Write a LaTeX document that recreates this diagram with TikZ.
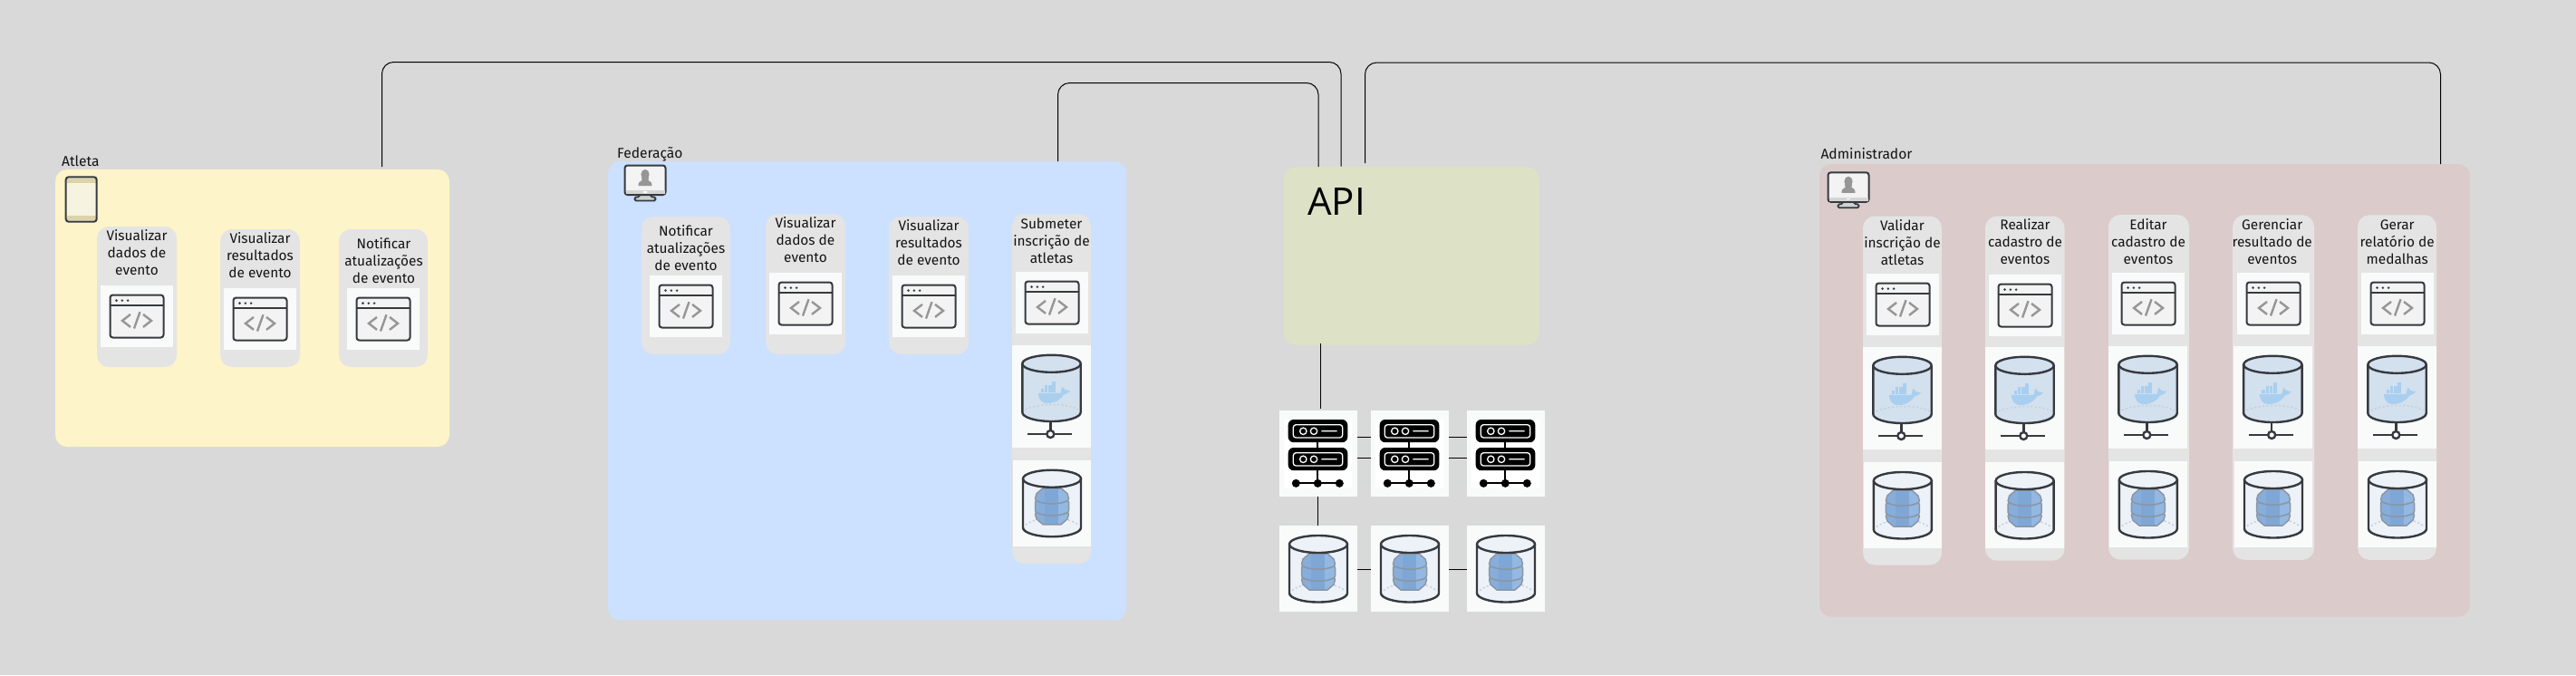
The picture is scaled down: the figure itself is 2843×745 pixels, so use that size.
\documentclass[tikz,border=0pt]{standalone}
\usepackage{graphicx}
\usepackage{fontspec}
\setmainfont{Fira Sans}
\newfontfamily\apifont{Open Sans}
\definecolor{bgc}{HTML}{D9D9D9}
\definecolor{yel}{HTML}{FEF4C9}
\definecolor{blu}{HTML}{CCE0FF}
\definecolor{pnk}{HTML}{DBCBCB}
\definecolor{apic}{HTML}{DDE1C6}
\definecolor{cardc}{HTML}{E4E4E4}
\definecolor{whit}{HTML}{F9FBFB}
\definecolor{ink}{HTML}{363A3F}
\definecolor{midg}{HTML}{969696}
\definecolor{scr}{HTML}{F3F3F3}
\definecolor{dockc}{HTML}{D3E0EE}
\definecolor{whale}{HTML}{A8CFEF}
\definecolor{dbc}{HTML}{EDF2F9}
\definecolor{barrel}{HTML}{87AEDB}
\definecolor{barreld}{HTML}{7FA7D6}
\definecolor{barrell}{HTML}{93B8E2}
\definecolor{barrele}{HTML}{8B96A3}
\definecolor{dots}{HTML}{C9CFD6}
\definecolor{tabscr}{HTML}{F6F4E0}
\definecolor{tabband}{HTML}{DDD3A9}
\tikzset{
  x=1pt,y=-1pt,
  plain/.style={inner sep=0pt,outer sep=0pt},
  region/.style={plain,rounded corners=13pt},
  cardbox/.style={plain,fill=cardc,rounded corners=13pt},
  whitebox/.style={plain,fill=whit},
  cardtext/.style={inner sep=0pt,anchor=base,font=\fontsize{15.4}{19}\selectfont,text=black!92},
  actortext/.style={inner sep=0pt,anchor=base west,font=\fontsize{15.6}{19}\selectfont,text=black!92},
  conn/.style={draw=black,line width=1pt},
  turn/.style={conn,rounded corners=13pt},
  codewin/.pic={
    \draw[ink,fill=scr,line width=2pt,rounded corners=3pt] (-29.5,-23.5) rectangle (29.5,23.5);
    \draw[ink,line width=2pt] (-29.5,-12.2) -- (29.5,-12.2);
    \fill[ink] (-22.5,-17.4) circle[radius=1.4pt] (-16.2,-17.4) circle[radius=1.4pt] (-9.9,-17.4) circle[radius=1.4pt];
    \draw[midg,line width=2.4pt] (-7,-2.1) -- (-16,4.9) -- (-7,11.9) (-3,13.5) -- (3.5,-4.8) (7,-2.1) -- (16,4.9) -- (7,11.9);
  },
  dockericon/.pic={
    \path[fill=dockc] (-32.2,-36.2) -- (-32.2,17.5) arc[start angle=180,end angle=360,x radius=32.2pt,y radius=10pt] -- (32.2,-36.2) arc[start angle=0,end angle=180,x radius=32.2pt,y radius=9.5pt] -- cycle;
    \fill[whale] (-14.5,-3.7) -- (10,-3.7) .. controls (11,-7) and (11,-9) .. (12,-11) .. controls (13,-8) and (15,-7) .. (20.5,-6.5) .. controls (18,-3) and (15,-2.5) .. (13.5,-2) .. controls (8,6) and (0,8) .. (-5,7.5) .. controls (-12,7) and (-14.5,2) .. cycle;
    \foreach \bx in {-12,-7.8,-3.6,0.6}{\fill[whale] (\bx,-8.2) rectangle ++(3.6,3.6);}
    \foreach \bx in {-7.8,-3.6,0.6}{\fill[whale] (\bx,-12.4) rectangle ++(3.6,3.6);}
    \fill[whale] (0.6,-16.6) rectangle ++(3.6,3.6);
    \draw[dots,line width=1.5pt,dash pattern=on 2pt off 2.5pt] (-28.8,14.2) .. controls (-15,8) and (15,6.5) .. (29.5,14.2);
    \draw[ink,line width=2.4pt] (0,-36.2) ellipse[x radius=32.2pt,y radius=9.5pt];
    \draw[ink,line width=2.4pt] (-32.2,-36.2) -- (-32.2,17.5) arc[start angle=180,end angle=360,x radius=32.2pt,y radius=10pt] -- (32.2,-36.2);
    \draw[ink,line width=2.4pt] (-1.2,27.5) -- (-1.2,37.5) (-26.2,41.5) -- (22.8,41.5);
    \draw[ink,fill=white,line width=2.4pt] (-1.2,41.5) circle[radius=4pt];
  },
  dbicon/.pic={
    \path[fill=dbc] (-32,-27) -- (-32,27) arc[start angle=180,end angle=360,x radius=32pt,y radius=10pt] -- (32,-27) arc[start angle=0,end angle=180,x radius=32pt,y radius=9.5pt] -- cycle;
    \draw[dots,line width=1.5pt,dash pattern=on 2pt off 2.5pt] (-29,24) .. controls (-25,21) and (-22,20) .. (-18,18.5) (18,18.5) .. controls (22,20) and (25,21) .. (29,24);
    \begin{scope}
      \path[clip] (-10,-16.5) -- (10,-16.5) -- (17,-10.5) -- (18.5,-5) -- (17.5,-3) -- (18.5,-1) -- (18.5,8) -- (17.5,10) -- (18.5,12) -- (17,17.5) -- (10,23.5) -- (-10,23.5) -- (-17,17.5) -- (-18.5,12) -- (-17.5,10) -- (-18.5,8) -- (-18.5,-1) -- (-17.5,-3) -- (-18.5,-5) -- (-17,-10.5) -- cycle;
      \fill[barrel] (-20,-18) rectangle (20,25);
      \fill[barreld] (-8,-18) rectangle (7,25);
      \fill[barrell] (7,-18) rectangle (20,25);
    \end{scope}
    \draw[barrele,line width=1.5pt,line join=round] (-10,-16.5) -- (10,-16.5) -- (17,-10.5) -- (18.5,-5) -- (17.5,-3) -- (18.5,-1) -- (18.5,8) -- (17.5,10) -- (18.5,12) -- (17,17.5) -- (10,23.5) -- (-10,23.5) -- (-17,17.5) -- (-18.5,12) -- (-17.5,10) -- (-18.5,8) -- (-18.5,-1) -- (-17.5,-3) -- (-18.5,-5) -- (-17,-10.5) -- cycle;
    \draw[barrele,line width=1.6pt] (-18,-3) .. controls (-8,2) and (8,2) .. (18,-3) (-18,10) .. controls (-8,15) and (8,15) .. (18,10);
    \draw[ink,line width=2.4pt] (0,-27) ellipse[x radius=32pt,y radius=9.5pt];
    \draw[ink,line width=2.4pt] (-32,-27) -- (-32,27) arc[start angle=180,end angle=360,x radius=32pt,y radius=10pt] -- (32,-27);
  },
  servicon/.pic={
    \fill[white] (-38,-37) rectangle (37,37.5);
    \foreach \ty in {-37.35,-6.35}{
      \fill[black,rounded corners=6pt] (-33.3,\ty) rectangle (32.3,\ty+25.2);
      \draw[white,line width=1.3pt,rounded corners=3pt] (-27.7,\ty+5.7) rectangle (26.7,\ty+20);
      \draw[white,line width=1.3pt] (-16.7,\ty+12.8) circle[radius=3.7pt] (-5,\ty+12.8) circle[radius=3.7pt] (3.3,\ty+12.8) -- (20.7,\ty+12.8);
    }
    \draw[black,line width=2pt] (-0.7,-12) -- (-0.7,-6) (-0.7,18.6) -- (-0.7,33) (-24.7,33) -- (23.3,33);
    \fill[black] (-24.7,33) circle[radius=4.5pt] (-0.7,33) circle[radius=4.5pt] (23.3,33) circle[radius=4.5pt];
  },
  monitoricon/.pic={
    \filldraw[fill=midg!45,draw=ink,line width=1.8pt,rounded corners=1.5pt] (16,32) -- (16,35) -- (11,35) -- (11,39) -- (34,39) -- (34,35) -- (29,35) -- (29,32) -- cycle;
    \filldraw[fill=scr,draw=ink,line width=2pt,rounded corners=3pt] (0,0) rectangle (45,32.5);
    \fill[midg!40] (1,27.5) rectangle (44,31.5);
    \fill[white] (20.5,28.5) rectangle (24.5,30);
    \fill[midg] (22.5,10) ellipse[x radius=4.6pt,y radius=5.6pt];
    \fill[midg] (18.5,13) -- (26.5,13) -- (26,16.5) .. controls (29,18) and (30,19) .. (30,22.5) -- (15,22.5) .. controls (15,19) and (16,18) .. (19,16.5) -- cycle;
  },
  tableticon/.pic={
    \fill[tabscr,rounded corners=3pt] (0,0) rectangle (34,49.4);
    \fill[tabband] (1,1.5) rectangle (33,6.5);
    \fill[tabband] (1,43) rectangle (33,48);
    \draw[ink,line width=2pt,rounded corners=3pt] (0,0) rectangle (34,49.4);
  },
}
\newcommand\boxat[6]{\node[#1,minimum width={(#5-#3)*1pt},minimum height={(#6-#4)*1pt}] (#2) at ({(#3+#5)/2},{(#4+#6)/2}) {};}
\newcommand\cardlabel[4]{\node[cardtext] (#1) at (#2,#3) {\begin{tabular}[t]{@{}c@{}}#4\end{tabular}};}
\newcommand\codeat[1]{\pic at (#1.center) {codewin};}
\newcommand\dockat[1]{\pic at (#1.center) {dockericon};}
\newcommand\dbat[1]{\pic at (#1.center) {dbicon};}
\begin{document}
\begin{tikzpicture}
\fill[bgc] (0,0) rectangle (2843,745);
\useasboundingbox (0,0) rectangle (2843,745);

% regions
\boxat{region,fill=yel}{atleta}{61}{187}{496}{493}
\boxat{region,fill=blu}{federacao}{671}{178}{1243}{684.5}
\boxat{region,fill=pnk}{admin}{2008}{181}{2726}{680.5}
\boxat{region,fill=apic,rounded corners=14pt}{api}{1417}{184}{1699}{381}
\node[inner sep=0pt,anchor=base west,font=\fontsize{42}{46}\selectfont\apifont,text=black] (apilabel) at (1443,237.7) {API};

\node[actortext] (latleta) at (68,183) {Atleta};
\node[actortext] (lfed) at (681,174.8) {Federação};
\node[actortext] (ladm) at (2009.3,175) {Administrador};
\pic at (72.7,195.3) {tableticon};
\pic at (689.5,182.5) {monitoricon};
\pic at (2017.5,190.3) {monitoricon};

% connectors to API
\coordinate (atlOut) at (421.5,184);
\coordinate (fedOut) at (1167.5,178);
\coordinate (admOut) at (2693.5,181);
\coordinate (apiInA) at (1480,183.5);
\coordinate (apiInF) at (1455,184);
\coordinate (apiInD) at (1506.5,180);
\coordinate (turnA) at (421.5,68.5);
\coordinate (turnF) at (1167.5,91.5);
\coordinate (turnD) at (2693.5,69);
\draw[turn] (atlOut) -- (turnA) -| (apiInA);
\draw[turn] (fedOut) -- (turnF) -| (apiInF);
\draw[turn] (admOut) -- (turnD) -| (apiInD);

% Atleta cards
\boxat{cardbox}{c1}{107}{250}{195}{405}
\boxat{cardbox}{c2}{243}{253}{331}{405}
\boxat{cardbox}{c3}{374}{253}{472}{405}
\boxat{whitebox}{c1w}{111}{315}{191}{383}
\boxat{whitebox}{c2w}{247}{318}{327}{386}
\boxat{whitebox}{c3w}{383}{318}{463}{386}
\cardlabel{c1t}{151}{265}{Visualizar\\dados de\\evento}
\cardlabel{c2t}{287}{268}{Visualizar\\resultados\\de evento}
\cardlabel{c3t}{423.5}{274}{Notificar\\atualizações\\de evento}
\codeat{c1w}\codeat{c2w}\codeat{c3w}

% Federacao cards
\boxat{cardbox}{f1}{708}{239}{806}{391}
\boxat{cardbox}{f2}{845}{236}{933}{391}
\boxat{cardbox}{f3}{981}{239}{1069}{391}
\boxat{cardbox}{f4}{1117}{236}{1204}{622}
\boxat{whitebox}{f1w}{717}{304}{797}{372}
\boxat{whitebox}{f2w}{849}{301}{929}{369}
\boxat{whitebox}{f3w}{985}{304}{1065}{372}
\boxat{whitebox}{f4w}{1121}{300}{1201}{368}
\boxat{whitebox}{f4d}{1117}{381}{1204}{494}
\boxat{whitebox}{f4b}{1118}{508}{1204}{602.5}
\cardlabel{f1t}{757}{260}{Notificar\\atualizações\\de evento}
\cardlabel{f2t}{889}{251}{Visualizar\\dados de\\evento}
\cardlabel{f3t}{1025}{254}{Visualizar\\resultados\\de evento}
\cardlabel{f4t}{1160.5}{252}{Submeter\\inscrição de\\atletas}
\codeat{f1w}\codeat{f2w}\codeat{f3w}\codeat{f4w}
\dockat{f4d}\dbat{f4b}

% Administrador cards
\boxat{cardbox}{a1}{2056}{238.5}{2143}{623.5}
\boxat{cardbox}{a2}{2191}{238.5}{2278.5}{618.7}
\boxat{cardbox}{a3}{2327}{237}{2416}{617.6}
\boxat{cardbox}{a4}{2464}{237.3}{2554}{617.8}
\boxat{cardbox}{a5}{2602}{237.3}{2689}{617.8}
\boxat{whitebox}{a1w}{2060}{302}{2140}{370}
\boxat{whitebox}{a2w}{2195}{303}{2275}{371}
\boxat{whitebox}{a3w}{2331}{301}{2411}{369}
\boxat{whitebox}{a4w}{2469}{301}{2549}{369}
\boxat{whitebox}{a5w}{2606}{301}{2686}{369}
\boxat{whitebox}{a1d}{2056}{383}{2143}{496}
\boxat{whitebox}{a2d}{2191}{383}{2278}{496}
\boxat{whitebox}{a3d}{2327}{382}{2414}{495}
\boxat{whitebox}{a4d}{2464.7}{382}{2552}{495}
\boxat{whitebox}{a5d}{2602}{382}{2689}{495}
\boxat{whitebox}{a1b}{2056.7}{510}{2143}{605}
\boxat{whitebox}{a2b}{2191.3}{510}{2278}{605}
\boxat{whitebox}{a3b}{2327.7}{509}{2414}{604}
\boxat{whitebox}{a4b}{2466}{509}{2552}{604}
\boxat{whitebox}{a5b}{2603}{509}{2689}{604}
\cardlabel{a1t}{2099.5}{254.3}{Validar\\inscrição de\\atletas}
\cardlabel{a2t}{2235}{253.3}{Realizar\\cadastro de\\eventos}
\cardlabel{a3t}{2371}{253.3}{Editar\\cadastro de\\eventos}
\cardlabel{a4t}{2507.7}{253.3}{Gerenciar\\resultado de\\eventos}
\cardlabel{a5t}{2645.7}{253.3}{Gerar\\relatório de\\medalhas}
\codeat{a1w}\codeat{a2w}\codeat{a3w}\codeat{a4w}\codeat{a5w}
\dockat{a1d}\dockat{a2d}\dockat{a3d}\dockat{a4d}\dockat{a5d}
\dbat{a1b}\dbat{a2b}\dbat{a3b}\dbat{a4b}\dbat{a5b}

% cluster
\boxat{whitebox}{s1}{1412}{453}{1498}{547.7}
\boxat{whitebox}{s2}{1513}{453}{1599}{547.7}
\boxat{whitebox}{s3}{1619}{453}{1705}{547.7}
\boxat{whitebox}{d1}{1412}{580}{1498}{675}
\boxat{whitebox}{d2}{1513}{580}{1599}{675}
\boxat{whitebox}{d3}{1619}{580}{1705}{675}
\pic at (s1.center) {servicon};
\pic at (s2.center) {servicon};
\pic at (s3.center) {servicon};
\dbat{d1}\dbat{d2}\dbat{d3}

\coordinate (apiOut) at (1457.5,379);
\coordinate (srvIn) at (1457.5,450.5);
\draw[conn] (apiOut) -- (srvIn);
\coordinate (row1) at (1500,482);
\coordinate (row2) at (1500,505);
\coordinate (row3) at (1500,628);
\foreach \ra/\rb in {s1/s2,s2/s3}{
  \draw[conn] (\ra.east |- row1) -- (\rb.west |- row1);
  \draw[conn] (\ra.east |- row2) -- (\rb.west |- row2);
}
\draw[conn] (d1.east |- row3) -- (d2.west |- row3);
\draw[conn] (d2.east |- row3) -- (d3.west |- row3);
\coordinate (vs) at (1454.5,500);
\draw[conn] (s1.south -| vs) -- (d1.north -| vs);
\end{tikzpicture}
\end{document}
